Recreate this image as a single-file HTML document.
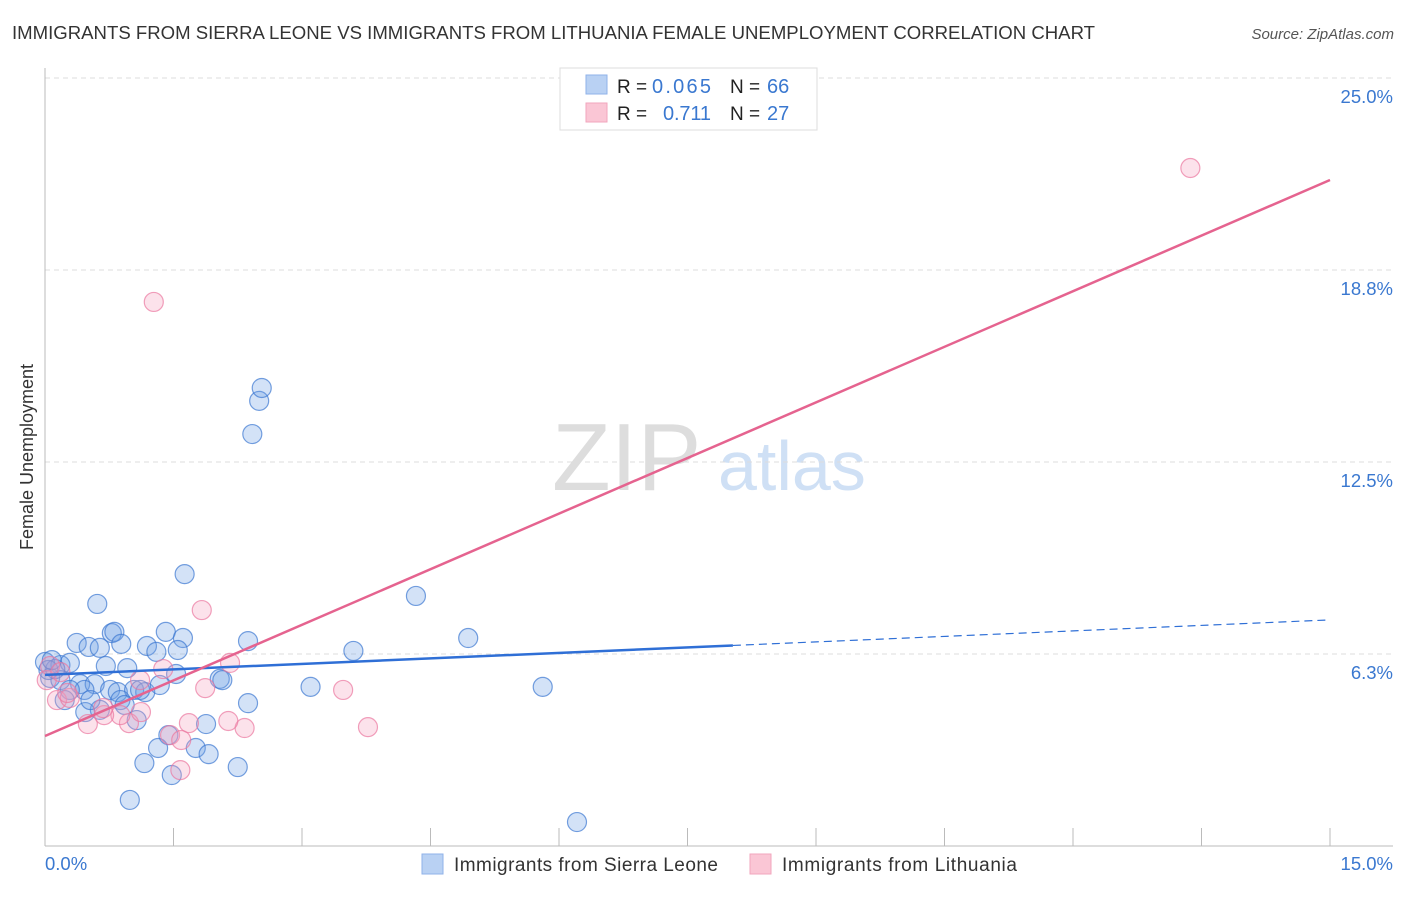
<!DOCTYPE html>
<html><head><meta charset="utf-8">
<style>
body{margin:0;background:#fff;font-family:"Liberation Sans",sans-serif;}
svg text{font-family:"Liberation Sans",sans-serif;}
</style></head>
<body>
<svg id="chart" width="1406" height="892" viewBox="0 0 1406 892">
<text x="12" y="39" font-size="18" fill="#333" textLength="1083" lengthAdjust="spacingAndGlyphs">IMMIGRANTS FROM SIERRA LEONE VS IMMIGRANTS FROM LITHUANIA FEMALE UNEMPLOYMENT CORRELATION CHART</text>
<text x="1394" y="39" font-size="15" fill="#555" font-style="italic" text-anchor="end">Source: ZipAtlas.com</text>
<g>
<text x="552" y="490" font-size="96" fill="#ddd" font-family="Liberation Serif">ZIP</text>
<text x="718" y="490" font-size="70" fill="#cfe0f5">atlas</text>
</g>
<g id="grid"></g>
<g id="axes"></g>
<g id="marks"></g>
<g id="lines"></g>
<text transform="translate(33,457) rotate(-90)" font-size="18" fill="#333" text-anchor="middle">Female Unemployment</text>
<g>
<rect x="560" y="68" width="257" height="62" fill="#fff" stroke="#ddd"/>
<rect x="586" y="75" width="21" height="19" fill="#b9d1f3" stroke="#8fb2e8"/>
<rect x="586" y="103" width="21" height="19" fill="#fac6d5" stroke="#f1a6bd"/>
<text x="617" y="93" font-size="19" fill="#222">R =</text>
<text x="652" y="93" font-size="20" fill="#3a78d0" textLength="59">0.065</text>
<text x="730" y="93" font-size="19" fill="#222">N =</text>
<text x="767" y="93" font-size="20" fill="#3a78d0">66</text>
<text x="617" y="120" font-size="19" fill="#222">R =</text>
<text x="663" y="120" font-size="20" fill="#3a78d0" textLength="48">0.711</text>
<text x="730" y="120" font-size="19" fill="#222">N =</text>
<text x="767" y="120" font-size="20" fill="#3a78d0">27</text>
</g>
<g>
<rect x="422" y="854" width="21" height="20" fill="#b9d1f3" stroke="#8fb2e8"/>
<text x="454" y="871" font-size="19" fill="#333" textLength="264">Immigrants from Sierra Leone</text>
<rect x="750" y="854" width="21" height="20" fill="#fac6d5" stroke="#f1a6bd"/>
<text x="782" y="871" font-size="19" fill="#333" textLength="235">Immigrants from Lithuania</text>
</g>
</svg>
<script>
const blueX=[0.61,1.63,0.78,0.81,0.37,0.51,0.64,0.89,1.19,1.30,1.41,1.61,1.55,0.71,0.96,0.00,0.18,0.29,0.06,0.18,0.41,0.58,0.76,0.85,1.04,1.17,1.34,1.53,2.04,2.07,2.37,2.37,0.12,0.46,0.64,0.47,0.88,0.93,1.07,1.44,1.32,1.76,1.91,1.88,1.16,2.25,1.48,0.99,2.42,2.50,2.53,3.10,3.60,4.33,4.94,5.81,6.21,1.11,0.53,0.29,0.04,0.23,0.08];
const blueY=[7.88,8.85,6.93,6.97,6.61,6.48,6.45,6.58,6.51,6.32,6.97,6.77,6.38,5.86,5.79,5.99,5.89,5.96,5.47,5.40,5.27,5.27,5.08,5.01,5.08,5.01,5.24,5.60,5.44,5.40,6.67,4.65,5.76,5.08,4.43,4.36,4.75,4.59,4.10,3.61,3.19,3.19,2.99,3.97,2.70,2.57,2.31,1.50,13.41,14.49,14.91,5.18,6.35,8.14,6.77,5.18,0.78,5.08,4.75,5.08,5.73,4.75,6.05];
const pinkX=[1.27,13.37,1.83,1.38,2.16,1.87,3.48,3.77,2.33,2.14,1.68,0.50,0.98,1.12,0.88,0.69,0.14,0.29,0.68,1.46,1.59,1.58,0.02,0.06,1.11,0.26,0.18];
const pinkY=[17.71,22.07,7.68,5.76,5.96,5.14,5.08,3.87,3.84,4.07,4.00,3.97,4.00,4.36,4.26,4.26,4.75,4.82,4.49,3.61,3.45,2.47,5.40,5.86,5.40,4.98,5.66];
const yTicks=[25.0,18.8,12.5,6.3];
const yTickVals=[25,18.75,12.5,6.25];
const xTickCount=10;
const blueTrend=[5.57,7.36];
const pinkTrend=[3.58,21.68];
const xMax=15, blueSolidEnd=8.03;

const NS='http://www.w3.org/2000/svg';
const X0=45,X1=1330,YB=846,YPX=30.72;
const sx=v=>X0+v/xMax*(X1-X0);
const sy=v=>YB-v*YPX;
function mk(tag,attrs,parent){const e=document.createElementNS(NS,tag);for(const k in attrs)e.setAttribute(k,attrs[k]);parent.appendChild(e);return e;}
const grid=document.getElementById('grid'),axes=document.getElementById('axes'),marks=document.getElementById('marks'),lines=document.getElementById('lines');
yTickVals.forEach((v,i)=>{
 const l=mk('line',{x1:X0,x2:1393,y1:sy(v),y2:sy(v),stroke:'#ddd','stroke-dasharray':'5,4'},grid);
 
 
 const t=mk('text',{x:1393,y:sy(v)+25,'font-size':18.5,fill:'#3a78d0','text-anchor':'end'},grid);
 t.textContent=yTicks[i].toFixed(1)+'%';
 
 
});
let a=mk('line',{x1:X0,x2:X0,y1:68,y2:YB,stroke:'#bbb'},axes);


a=mk('line',{x1:X0,x2:1393,y1:YB,y2:YB,stroke:'#bbb'},axes);


for(let i=1;i<=xTickCount;i++){
 const x=sx(i*xMax/xTickCount);
 const t=mk('line',{x1:x,x2:x,y1:828,y2:YB,stroke:'#bbb'},axes);
 
 
}
let xl=mk('text',{x:45,y:870,'font-size':18.5,fill:'#3a78d0'},axes);xl.textContent='0.0%';


xl=mk('text',{x:1393,y:870,'font-size':18.5,fill:'#3a78d0','text-anchor':'end'},axes);xl.textContent=xMax.toFixed(1)+'%';


blueX.forEach((x,i)=>{
 const c=mk('circle',{cx:sx(x),cy:sy(blueY[i]),r:9.5,fill:'rgba(110,160,230,0.3)',stroke:'rgba(60,120,210,0.7)','stroke-width':1.2},marks);
 
 
});
pinkX.forEach((x,i)=>{
 const c=mk('circle',{cx:sx(x),cy:sy(pinkY[i]),r:9.5,fill:'rgba(245,160,190,0.3)',stroke:'rgba(235,120,160,0.7)','stroke-width':1.2},marks);
 
 
});
const by=v=>blueTrend[0]+(blueTrend[1]-blueTrend[0])*v/xMax;
let ln=mk('line',{x1:sx(0),y1:sy(blueTrend[0]),x2:sx(blueSolidEnd),y2:sy(by(blueSolidEnd)),stroke:'#2f6fd6','stroke-width':2.5},lines);


ln=mk('line',{x1:sx(blueSolidEnd),y1:sy(by(blueSolidEnd)),x2:sx(xMax),y2:sy(blueTrend[1]),stroke:'#2f6fd6','stroke-width':1.2,'stroke-dasharray':'8,5'},lines);


ln=mk('line',{x1:sx(0),y1:sy(pinkTrend[0]),x2:sx(xMax),y2:sy(pinkTrend[1]),stroke:'#e5638f','stroke-width':2.5},lines);


</script>
</body></html>
